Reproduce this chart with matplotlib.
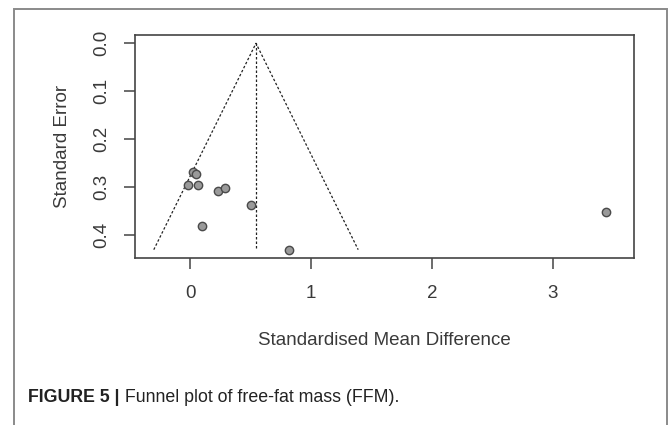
import matplotlib.pyplot as plt
from matplotlib.patches import Rectangle

# study estimates
smd = [0.027, 0.048, -0.019, 0.066, 0.228, 0.292, 0.504, 0.097, 0.82, 3.436]
se = [0.269, 0.274, 0.296, 0.296, 0.308, 0.303, 0.337, 0.381, 0.431, 0.353]
pooled = 0.545
se_max = 0.431
xticks = [0, 1, 2, 3]
yticks = [0.0, 0.1, 0.2, 0.3, 0.4]

plt.rcParams['font.family'] = ['Liberation Sans', 'DejaVu Sans']

fig = plt.figure(figsize=(6.69, 4.25), dpi=100)

# outer frame of the figure panel
fig.add_artist(Rectangle((14 / 669, -0.05), (666.5 - 14) / 669, 1.05 - 9 / 425,
                         transform=fig.transFigure, fill=False,
                         edgecolor='#8a8a8a', lw=1.4))

ax = fig.add_axes([135 / 669, 1 - 258.3 / 425, (634.3 - 135) / 669, (258.3 - 35) / 425])

# funnel: pooled estimate +/- 1.96 SE
ax.plot([pooled - 1.96 * se_max, pooled, pooled + 1.96 * se_max], [se_max, 0, se_max],
        color='#222222', lw=0.9, ls=(0, (2, 1.6)))
ax.plot([pooled, pooled], [0, se_max], color='#222222', lw=0.9, ls=(0, (2, 1.6)))

ax.plot(smd, se, 'o', ms=6, mfc='#9a9a9a', mec='#4a4a4a', mew=1.0)

ax.set_xlim(-0.455, 3.672)
ax.set_ylim(0.449, -0.0173)
ax.set_xticks(xticks)
ax.set_yticks(yticks)
ax.set_xticklabels([str(v) for v in xticks])
ax.set_yticklabels([f"{v:.1f}" for v in yticks], rotation=90, va='center')

for s in ax.spines.values():
    s.set_color('#444444')
    s.set_linewidth(1.2)
ax.tick_params(axis='both', length=8, width=1.1, color='#444444',
               labelsize=13.5, labelcolor='#3a3a3a')
ax.tick_params(axis='x', pad=11)
ax.tick_params(axis='y', pad=10)

ax.set_xlabel("Standardised Mean Difference", fontsize=13.5, color='#3a3a3a', labelpad=22)
ax.set_ylabel("Standard Error", fontsize=13.5, color='#3a3a3a', labelpad=16)

t1 = fig.text(28 / 669, 1 - 398 / 425, "FIGURE 5 |", fontsize=12.8,
              fontweight='bold', color='#222222', va='center')
ax.annotate(" Funnel plot of free-fat mass (FFM).", xy=(1, 0.5), xycoords=t1,
            va='center', fontsize=12.8, color='#222222', annotation_clip=False)

fig.savefig("out.png", dpi=100)
